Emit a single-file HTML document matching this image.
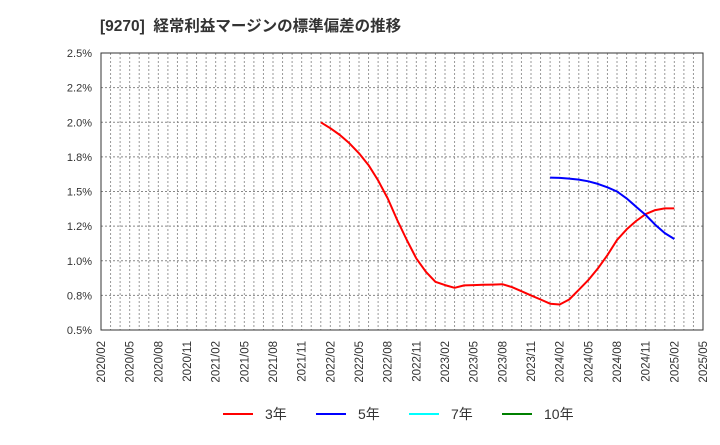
<!DOCTYPE html>
<html><head><meta charset="utf-8"><style>
body{margin:0;background:#fff;}
svg text{font-family:"Liberation Sans","Noto Sans CJK JP",sans-serif;}
</style></head><body>
<svg id="c" width="720" height="440" xmlns="http://www.w3.org/2000/svg">
<text x="100" y="31" font-size="15.5" font-weight="bold" fill="#333">[9270]&#160;&#160;経常利益マージンの標準偏差の推移</text>
<g id="grid"></g><g id="lines"></g><g id="axes"></g>
<g>
<g><line x1="223" y1="414" x2="253" y2="414" stroke="#ff0000" stroke-width="2"/><text x="265" y="419" font-size="14" fill="#333">3年</text></g>
<g><line x1="316" y1="414" x2="346" y2="414" stroke="#0000ff" stroke-width="2"/><text x="358" y="419" font-size="14" fill="#333">5年</text></g>
<g><line x1="409" y1="414" x2="439" y2="414" stroke="#00ffff" stroke-width="2"/><text x="451" y="419" font-size="14" fill="#333">7年</text></g>
<g><line x1="502" y1="414" x2="532" y2="414" stroke="#008000" stroke-width="2"/><text x="544" y="419" font-size="14" fill="#333">10年</text></g>
</g>
</svg>
<script>
const startIndex3 = 23;
const series3 = [2.00,1.957,1.908,1.848,1.776,1.69,1.58,1.45,1.294,1.15,1.017,0.92,0.848,0.824,0.805,0.822,0.824,0.826,0.828,0.831,0.81,0.78,0.75,0.72,0.69,0.684,0.72,0.79,0.86,0.945,1.04,1.15,1.226,1.287,1.337,1.366,1.378,1.378];
const startIndex5 = 47;
const series5 = [1.60,1.598,1.593,1.586,1.574,1.555,1.53,1.50,1.45,1.39,1.33,1.26,1.20,1.157];
const yTicks = [0.5,0.75,1.0,1.25,1.5,1.75,2.0,2.25,2.5];
const yTickLabels = ["0.5%","0.8%","1.0%","1.2%","1.5%","1.8%","2.0%","2.2%","2.5%"];
const xLabels = ["2020/02","2020/05","2020/08","2020/11","2021/02","2021/05","2021/08","2021/11","2022/02","2022/05","2022/08","2022/11","2023/02","2023/05","2023/08","2023/11","2024/02","2024/05","2024/08","2024/11","2025/02","2025/05"];
const L=101,R=703,T=53,B=330,N=63;
const xs=i=>L+(R-L)*i/N;
const ys=v=>B-(v-0.5)/2.0*(B-T);
const NS="http://www.w3.org/2000/svg";
function mk(p,tag,a){const e=document.createElementNS(NS,tag);for(const k in a)e.setAttribute(k,a[k]);p.appendChild(e);return e;}
const grid=document.getElementById('grid'),axes=document.getElementById('axes'),lines=document.getElementById('lines');
for(let i=1;i<N;i++){const l=mk(grid,'line',{x1:xs(i),x2:xs(i),y1:T,y2:B,stroke:'#999','stroke-dasharray':'2,2','stroke-width':1});

}
yTicks.forEach((v,k)=>{if(k>0&&k<yTicks.length-1){const l=mk(grid,'line',{x1:L,x2:R,y1:ys(v),y2:ys(v),stroke:'#888','stroke-dasharray':'2,2','stroke-width':1});

}
const t=mk(axes,'text',{x:92,y:ys(v)+4,'text-anchor':'end','font-size':11,fill:'#333'});t.textContent=yTickLabels[k];

});
const fr=mk(axes,'rect',{x:L,y:T,width:R-L,height:B-T,fill:'none',stroke:'#333','stroke-width':1});


xLabels.forEach((s,k)=>{const x=xs(k*3);const t=mk(axes,'text',{x:0,y:0,'text-anchor':'end','font-size':11.5,fill:'#333',transform:`translate(${x+4},341) rotate(-90)`});t.textContent=s;

});
function draw(arr,st,col,name){const d=arr.map((v,i)=>(i?'L':'M')+xs(st+i).toFixed(1)+','+ys(v).toFixed(1)).join(' ');
const p=mk(lines,'path',{d:d,fill:'none',stroke:col,'stroke-width':2,'stroke-linejoin':'round'});

}
draw(series3,startIndex3,'#ff0000','line-3y');
draw(series5,startIndex5,'#0000ff','line-5y');
</script>
</body></html>
